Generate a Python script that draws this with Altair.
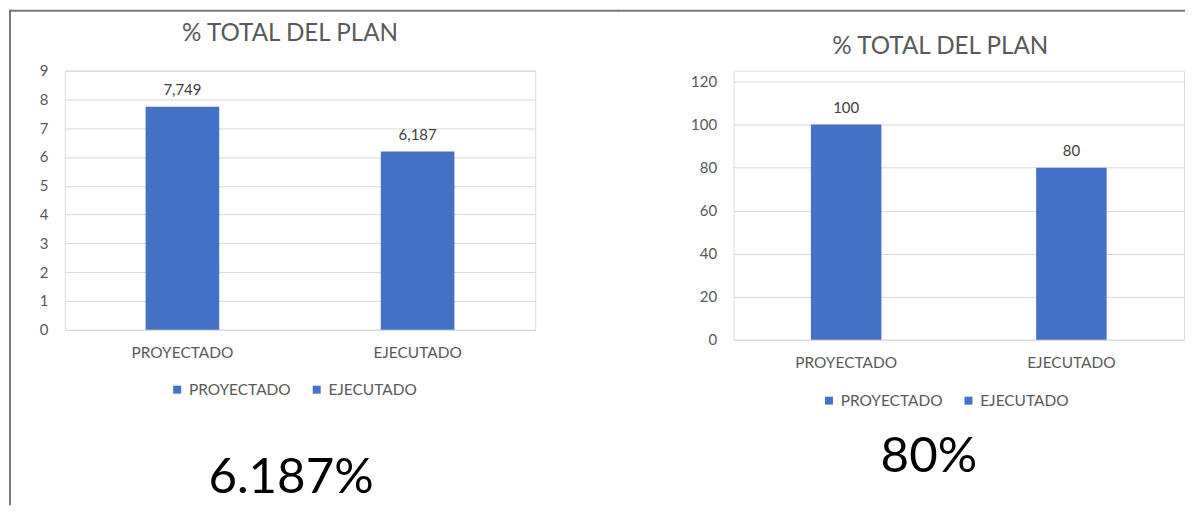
import altair as alt
import pandas as pd

# ---- data ----
categorias = ["PROYECTADO", "EJECUTADO"]
valores_izq = [7.749, 6.187]
valores_der = [100, 80]
ticks_izq = [0, 1, 2, 3, 4, 5, 6, 7, 8, 9]
ticks_der = [0, 20, 40, 60, 80, 100, 120]
titulo = "% TOTAL DEL PLAN"
resumen = ["6.187%", "80%"]

FONT = "Lato"
AZUL = "#4472C4"
GRIS = "#595959"
BORDE = "#7A7A7A"


def panel(valores, ticks, ymax, w, h, y_top, title_x, title_y, big_text, big_x, big_y,
          legend_x, legend_y, line_x1, line_x2, vertical=False, line_bottom=0):
    df = pd.DataFrame({"categoria": categorias, "valor": valores})
    base = alt.Chart(df)
    x = alt.X("categoria:N", sort=categorias,
              scale=alt.Scale(paddingInner=0, paddingOuter=0),
              axis=alt.Axis(title=None, labelAngle=0, domain=False, ticks=False,
                            grid=False, labelPadding=16, labelFont=FONT,
                            labelFontSize=15.5, labelColor=GRIS))
    y = alt.Y("valor:Q", scale=alt.Scale(domain=[0, ymax], nice=False, range=[h, y_top]),
              axis=alt.Axis(title=None, values=ticks, domain=False, ticks=False,
                            tickSize=0, grid=True, gridColor="#D9D9D9", gridWidth=1,
                            labelOverlap=False, labelPadding=17, labelFont=FONT,
                            labelFontSize=15, labelColor=GRIS))
    bars = base.mark_bar(width=alt.RelativeBandSize(0.313)).encode(
        x=x, y=y,
        color=alt.Color("categoria:N",
                        scale=alt.Scale(domain=categorias, range=[AZUL, AZUL]),
                        legend=alt.Legend(title=None, orient="none", legendX=legend_x,
                                          legendY=legend_y, direction="horizontal",
                                          symbolType="square", symbolSize=64,
                                          symbolStrokeWidth=0, labelFont=FONT,
                                          labelFontSize=15.5, labelColor=GRIS,
                                          labelOffset=4, columnPadding=18, padding=0)),
    )
    labels = base.transform_calculate(
        etiqueta="replace(toString(datum.valor), '.', ',')"
    ).mark_text(baseline="bottom", dy=-9, font=FONT, fontSize=15, color="#404040").encode(
        x=x, y=y, text="etiqueta:N")
    tdf = pd.DataFrame({"t": [titulo]})
    title = alt.Chart(tdf).mark_text(font=FONT, fontSize=24.3, color=GRIS,
                                     baseline="middle", align="center").encode(
        text="t:N", x=alt.value(title_x), y=alt.value(title_y))
    bdf = pd.DataFrame({"t": [big_text]})
    big = alt.Chart(bdf).mark_text(font=FONT, fontSize=49.4, color="#000000",
                                   baseline="middle", align="center").encode(
        text="t:N", x=alt.value(big_x), y=alt.value(big_y))
    # frame lines drawn as thin filled rects (exact bounds, so the panels join)
    rdf = pd.DataFrame({"r": [0]})
    top = alt.Chart(rdf).mark_rect(color=BORDE, strokeWidth=0).encode(
        x=alt.value(line_x1), x2=alt.value(line_x2), y=alt.value(-61), y2=alt.value(-59))
    layers = [bars, labels, title, big, top]
    if vertical:
        left = alt.Chart(rdf).mark_rect(color=BORDE, strokeWidth=0).encode(
            x=alt.value(line_x1), x2=alt.value(line_x1 + 2), y=alt.value(-61),
            y2=alt.value(line_bottom))
        layers.append(left)
    return alt.layer(*layers).properties(width=w, height=h)


izq = panel(valores_izq, ticks_izq, 9, 472, 260, 0, 226, -37, resumen[0], 227, 409,
            105, 312, line_x1=-56, line_x2=556, vertical=True, line_bottom=436)
der = panel(valores_der, ticks_der, 120, 452, 270, 11, 207.5, -24, resumen[1], 196, 388,
            88, 323, line_x1=-116, line_x2=453)

chart = alt.hconcat(izq, der, spacing=-3).resolve_scale(color="independent").resolve_legend(
    color="independent").properties(padding=0).configure_view(stroke=None).configure(
    background="white")

chart.save("out.html", embed_options={"renderer": "svg", "actions": False})
